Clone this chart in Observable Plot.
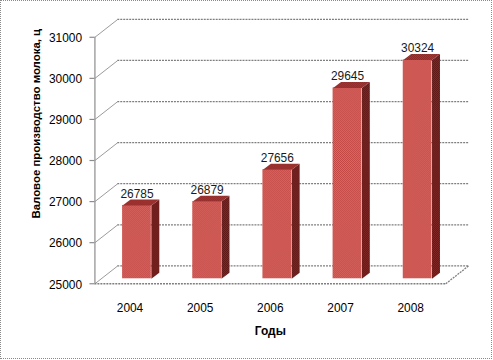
<!DOCTYPE html>
<html>
<head>
<meta charset="utf-8">
<script src="https://cdn.jsdelivr.net/npm/d3@7"></script>
<script src="https://cdn.jsdelivr.net/npm/@observablehq/plot@0.6"></script>
<style>
  html, body { margin: 0; padding: 0; background: #fff; }
  #wrap { position: relative; width: 490px; height: 357px; border: 1px dotted #8a8a8a; margin: 0; overflow: hidden; }
  #wrap svg { position: absolute; left: -1px; top: -1px; }
</style>
</head>
<body>
<div id="wrap"></div>
<script>
// ---- data ----
const years = ["2004", "2005", "2006", "2007", "2008"];
const values = [26785, 26879, 27656, 29645, 30324];
const yTicks = [25000, 26000, 27000, 28000, 29000, 30000, 31000];
const xTitle = "Годы";
const yTitle = "Валовое производство молока, ц";

// ---- layout (pixels) ----
const W = 493, H = 360;
const mL = 95, mR = 45, mT = 37, mB = 75;
const pxX = (W - mL - mR) / years.length;          // px per category unit
const pxY = (H - mT - mB) / (yTicks[yTicks.length - 1] - yTicks[0]); // px per value unit
const wallDX = 23, wallDY = -18;   // depth of the 3D box
const barDX = 7, barDY = -5;       // offset of bar front plane
const sideDX = 8, sideDY = -6;     // bar depth
const half = 0.205;                // half bar width in category units
const base = yTicks[0];

const wx = wallDX / pxX, wy = -wallDY / pxY;
const sx = sideDX / pxX, sy = -sideDY / pxY;

const bars = years.map((yr, i) => ({ yr, i, c: i + 0.5, v: values[i] }));
const sides = bars.flatMap(b => [
  { i: b.i, x: b.c + half, y: base },
  { i: b.i, x: b.c + half + sx, y: base + sy },
  { i: b.i, x: b.c + half + sx, y: b.v + sy },
  { i: b.i, x: b.c + half, y: b.v }
]);
const tops = bars.flatMap(b => [
  { i: b.i, x: b.c - half, y: b.v },
  { i: b.i, x: b.c - half + sx, y: b.v + sy },
  { i: b.i, x: b.c + half + sx, y: b.v + sy },
  { i: b.i, x: b.c + half, y: b.v }
]);

const font = "'Liberation Sans', Arial, sans-serif";
const grid = { stroke: "#7f7f7f", strokeWidth: 1.3, strokeDasharray: "2,1" };

const chart = Plot.plot({
  width: W, height: H,
  marginLeft: mL, marginRight: mR, marginTop: mT, marginBottom: mB,
  style: { fontFamily: font, fontSize: "12px", color: "#000", background: "transparent" },
  x: { type: "linear", domain: [0, years.length], axis: null },
  y: { type: "linear", domain: [base, yTicks[yTicks.length - 1]], axis: null },
  marks: [
    // back wall gridlines
    Plot.ruleY(yTicks, { x1: 0, x2: years.length, dx: wallDX, dy: wallDY, ...grid }),
    // left wall diagonals
    Plot.link(yTicks, { x1: 0, y1: d => d, x2: wx, y2: d => d + wy, stroke: "#9a9a9a", strokeWidth: 1 }),
    // floor front edge and right edge
    Plot.ruleY([base], { x1: 0, x2: years.length, ...grid }),
    Plot.link([base], { x1: years.length, y1: d => d, x2: years.length + wx, y2: d => d + wy, ...grid }),
    // value axis line and ticks
    Plot.ruleX([0], { y1: base, y2: yTicks[yTicks.length - 1], stroke: "#8c8c8c", strokeWidth: 1.2 }),
    Plot.ruleY(yTicks, { x1: 0, x2: -5 / pxX, stroke: "#8c8c8c", strokeWidth: 1.2 }),
    Plot.text(yTicks, { x: 0, y: d => d, text: d => String(d), textAnchor: "end", dx: -13, dy: 1, fontSize: 12, fill: "#000" }),
    // category labels
    Plot.text(bars, { x: "c", y: () => base, text: "yr", dy: 25, fontSize: 12, fill: "#000" }),
    // bars: front, side, top
    Plot.rect(bars, { x1: d => d.c - half, x2: d => d.c + half, y1: () => base, y2: "v", dx: barDX, dy: barDY, fill: "url(#pFront)" }),
    Plot.line(sides, { x: "x", y: "y", z: "i", fill: "url(#pSide)", stroke: "none", dx: barDX, dy: barDY }),
    Plot.line(tops, { x: "x", y: "y", z: "i", fill: "url(#pTop)", stroke: "none", dx: barDX, dy: barDY }),
    // data labels
    Plot.text(bars, { x: "c", y: "v", text: d => String(d.v), dx: barDX, dy: barDY + sideDY - 2, lineAnchor: "bottom", fontSize: 12, fill: "#1a1a1a" }),
    // axis titles
    Plot.text([xTitle], { frameAnchor: "bottom", dy: 52, fontWeight: "bold", fontSize: 12, fill: "#000" }),
    Plot.text([yTitle], { frameAnchor: "left", textAnchor: "middle", rotate: -90, dx: -59, dy: -37, fontWeight: "bold", fontSize: 11.5, fill: "#000" })
  ]
});

// dither patterns imitating the spreadsheet's textured fill
const svg = d3.select(chart.tagName.toLowerCase() === "svg" ? chart : chart.querySelector("svg"));
const defs = svg.insert("defs", ":first-child");
function checker(id, a, b) {
  const p = defs.append("pattern").attr("id", id).attr("patternUnits", "userSpaceOnUse")
    .attr("width", 2).attr("height", 2);
  p.append("rect").attr("width", 2).attr("height", 2).attr("fill", a);
  p.append("rect").attr("x", 0).attr("y", 0).attr("width", 1).attr("height", 1).attr("fill", b);
  p.append("rect").attr("x", 1).attr("y", 1).attr("width", 1).attr("height", 1).attr("fill", b);
}
checker("pFront", "#bf423f", "#dc6f69");
checker("pSide", "#8a2a28", "#561614");
checker("pTop", "#ad3a37", "#862826");

document.getElementById("wrap").appendChild(chart);
</script>
</body>
</html>
